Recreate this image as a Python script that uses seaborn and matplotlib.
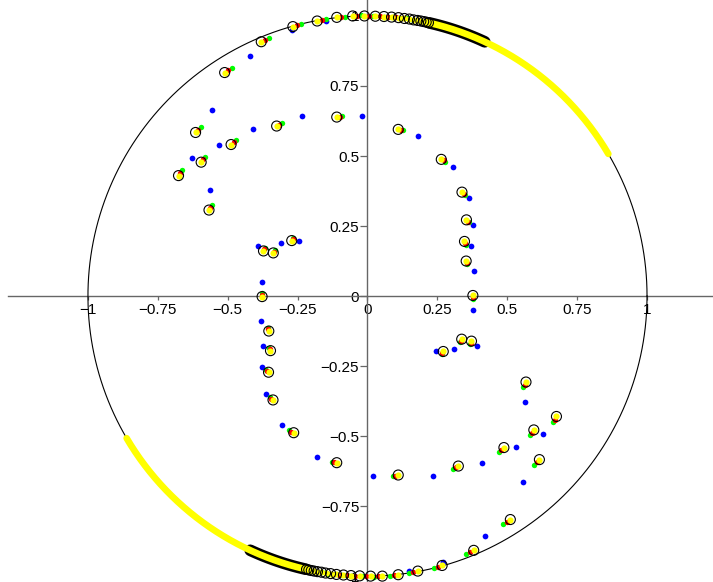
import numpy as np
import matplotlib
matplotlib.use('Agg')
import matplotlib.pyplot as plt
import seaborn as sns

# Black open circles, each with a yellow dot inside
circ_re = [-0.380, -0.267, -0.180, -0.110, -0.053, -0.011, 0.028, 0.059, 0.086, 0.111, 0.132,
           0.150, 0.165, 0.179, 0.191, 0.201, 0.210, 0.218,
           -0.511, -0.615, -0.676, -0.595, -0.567, -0.488, -0.325, -0.110, 0.110, 0.264,
           0.338, 0.354, 0.347, 0.353, 0.377, -0.271, -0.372, -0.337,
           0.380, 0.267, 0.180, 0.110, 0.053, 0.011, -0.028, -0.059, -0.086, -0.111, -0.132,
           -0.150, -0.165, -0.179, -0.191, -0.201, -0.210, -0.218,
           0.511, 0.615, 0.676, 0.595, 0.567, 0.488, 0.325, 0.110, -0.110, -0.264,
           -0.338, -0.354, -0.347, -0.353, -0.377, 0.271, 0.372, 0.337]
circ_im = [0.908, 0.962, 0.982, 0.995, 1.000, 1.000, 0.999, 0.998, 0.996, 0.994, 0.991,
           0.989, 0.986, 0.984, 0.982, 0.980, 0.978, 0.976,
           0.798, 0.584, 0.430, 0.478, 0.307, 0.541, 0.607, 0.639, 0.595, 0.488,
           0.371, 0.272, 0.195, 0.125, 0.002, 0.198, 0.161, 0.154,
           -0.908, -0.962, -0.982, -0.995, -1.000, -1.000, -0.999, -0.998, -0.996, -0.994, -0.991,
           -0.989, -0.986, -0.984, -0.982, -0.980, -0.978, -0.976,
           -0.798, -0.584, -0.430, -0.478, -0.307, -0.541, -0.607, -0.639, -0.595, -0.488,
           -0.371, -0.272, -0.195, -0.125, -0.002, -0.198, -0.161, -0.154]

red_re = [-0.366, -0.252, -0.164, -0.094, -0.037, 0.005, 0.044, 0.075, 0.102, 0.127, 0.148,
          -0.498, -0.606, -0.669, -0.587, -0.562, -0.479, -0.315, -0.100, 0.120, 0.272,
          0.344, 0.358, 0.350, 0.355, 0.377, -0.268, -0.369, -0.335,
          0.366, 0.252, 0.164, 0.094, 0.037, -0.005, -0.044, -0.075, -0.102, -0.127, -0.148,
          0.498, 0.606, 0.669, 0.587, 0.562, 0.479, 0.315, 0.100, -0.120, -0.272,
          -0.344, -0.358, -0.350, -0.355, -0.377, 0.268, 0.369, 0.335]
red_im = [0.914, 0.966, 0.985, 0.997, 1.001, 1.000, 0.999, 0.997, 0.995, 0.992, 0.989,
          0.806, 0.594, 0.441, 0.488, 0.316, 0.549, 0.612, 0.641, 0.593, 0.484,
          0.366, 0.266, 0.189, 0.119, -0.004, 0.202, 0.167, 0.159,
          -0.914, -0.966, -0.985, -0.997, -1.001, -1.000, -0.999, -0.997, -0.995, -0.992, -0.989,
          -0.806, -0.594, -0.441, -0.488, -0.316, -0.549, -0.612, -0.641, -0.593, -0.484,
          -0.366, -0.266, -0.189, -0.119, 0.004, -0.202, -0.167, -0.159]

green_re = [-0.352, -0.237, -0.150, -0.079, -0.022, 0.020, 0.059, 0.090, 0.117, 0.142, 0.163,
            -0.486, -0.597, -0.663, -0.580, -0.558, -0.471, -0.306, -0.090, 0.128, 0.279,
            0.350, 0.362, 0.353, 0.357, 0.377, -0.265, -0.367, -0.332,
            0.352, 0.237, 0.150, 0.079, 0.022, -0.020, -0.059, -0.090, -0.117, -0.142, -0.163,
            0.486, 0.597, 0.663, 0.580, 0.558, 0.471, 0.306, 0.090, -0.128, -0.279,
            -0.350, -0.362, -0.353, -0.357, -0.377, 0.265, 0.367, 0.332]
green_im = [0.920, 0.970, 0.988, 0.998, 1.002, 1.000, 0.998, 0.996, 0.993, 0.991, 0.987,
            0.814, 0.603, 0.451, 0.496, 0.325, 0.556, 0.617, 0.642, 0.592, 0.480,
            0.361, 0.263, 0.184, 0.114, -0.010, 0.206, 0.173, 0.164,
            -0.920, -0.970, -0.988, -0.998, -1.002, -1.000, -0.998, -0.996, -0.993, -0.991, -0.987,
            -0.814, -0.603, -0.451, -0.496, -0.325, -0.556, -0.617, -0.642, -0.592, -0.480,
            -0.361, -0.263, -0.184, -0.114, 0.010, -0.206, -0.173, -0.164]

blue_re = [-0.420, -0.557, -0.629, -0.531, -0.411, -0.234, -0.019, -0.563, -0.270, -0.150,
           0.180, 0.307, 0.363, 0.376, 0.372, 0.380, 0.379, -0.392, -0.308, -0.245,
           0.420, 0.557, 0.629, 0.531, 0.411, 0.234, 0.019, 0.563, 0.270, 0.150,
           -0.180, -0.307, -0.363, -0.376, -0.372, -0.380, -0.379, 0.392, 0.308, 0.245]
blue_im = [0.857, 0.665, 0.492, 0.538, 0.595, 0.643, 0.644, 0.379, 0.950, 0.981,
           0.573, 0.462, 0.350, 0.255, 0.178, 0.090, -0.050, 0.180, 0.190, 0.195,
           -0.857, -0.665, -0.492, -0.538, -0.595, -0.643, -0.644, -0.379, -0.950, -0.981,
           -0.573, -0.462, -0.350, -0.255, -0.178, -0.090, 0.050, -0.180, -0.190, -0.195]

# dense runs of roots along the unit circle (start, end angle in degrees)
black_arcs = [(65.2, 77.2), (245.2, 257.2)]
yellow_arcs = [(30.5, 78.0), (210.5, 258.0)]

ticks = [-1, -0.75, -0.5, -0.25, 0, 0.25, 0.5, 0.75, 1]
tick_labels = ['\u22121', '\u22120.75', '\u22120.5', '\u22120.25', '0', '0.25', '0.5', '0.75', '1']

sns.set_theme(style='white')
plt.rcParams['font.family'] = ['Liberation Sans', 'DejaVu Sans']

fig = plt.figure(figsize=(7.13, 5.82), dpi=100)
ax = fig.add_axes([8 / 713, 0, 705 / 713, 1])

# unit circle
t = np.linspace(0, 2 * np.pi, 500)
ax.plot(np.cos(t), np.sin(t), color='black', lw=0.8, zorder=2)

for a0, a1 in black_arcs:
    a = np.radians(np.linspace(a0, a1, 100))
    ax.plot(np.cos(a), np.sin(a), color='black', lw=8.4, solid_capstyle='round', zorder=5)
for a0, a1 in yellow_arcs:
    a = np.radians(np.linspace(a0, a1, 200))
    ax.plot(np.cos(a), np.sin(a), color='#ffff00', lw=4.8, solid_capstyle='round', zorder=6)

sns.scatterplot(x=blue_re, y=blue_im, color='#0000ff', s=17, linewidth=0, ax=ax, zorder=3)
sns.scatterplot(x=green_re, y=green_im, color='#00ff00', s=15, linewidth=0, ax=ax, zorder=4)
sns.scatterplot(x=red_re, y=red_im, color='#ff0000', s=15, linewidth=0, ax=ax, zorder=4.5)
sns.scatterplot(x=circ_re, y=circ_im, color='#ffff00', s=20, linewidth=0, ax=ax, zorder=6.5)
sns.scatterplot(x=circ_re, y=circ_im, color='black', s=52, linewidth=0.8, ax=ax, zorder=7)
ax.collections[-1].set_facecolor('none')
ax.collections[-1].set_edgecolor('black')

ax.set_xlim(-1.286, 1.236)
ax.set_ylim(-1.021, 1.057)

for side in ['top', 'right']:
    ax.spines[side].set_visible(False)
for side in ['left', 'bottom']:
    ax.spines[side].set_position(('data', 0))
    ax.spines[side].set_color('#666666')
    ax.spines[side].set_linewidth(1.0)
    ax.spines[side].set_zorder(1)

ax.set_xticks(ticks)
ax.set_xticklabels(tick_labels)
ax.set_yticks(ticks)
ax.set_yticklabels(tick_labels)
ax.tick_params(axis='x', direction='out', length=3, width=0.9, color='#666666',
               pad=2, labelsize=11, labelcolor='black', bottom=True)
ax.tick_params(axis='y', direction='out', length=5, width=0.9, color='#666666',
               pad=1, labelsize=11, labelcolor='black', left=True)
ax.set_xlabel('')
ax.set_ylabel('')
ax.patch.set_alpha(0)

fig.savefig('out.png', dpi=100)
